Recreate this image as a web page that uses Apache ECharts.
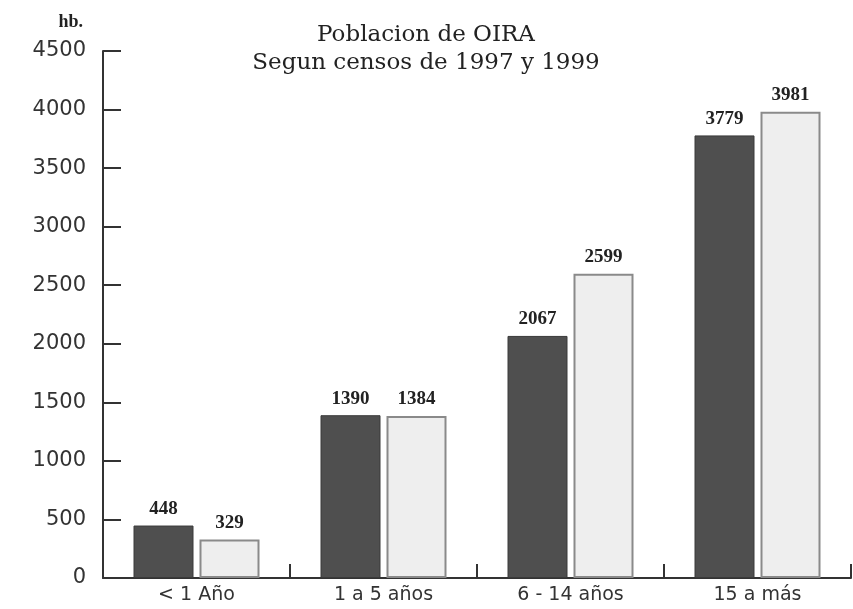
<!DOCTYPE html>
<html>
<head>
<meta charset="utf-8">
<script src="https://cdn.jsdelivr.net/npm/echarts@6/dist/echarts.min.js"></script>
<style>
  html, body { margin: 0; padding: 0; background: #fff; }
  #chart { width: 853px; height: 609px; }
</style>
</head>
<body>
<div id="chart"></div>
<script>
// grupos de edad y poblacion por censo
var categorias = ['< 1 Año', '1 a 5 años', '6 - 14 años', '15 a más'];
var censo1997 = [448, 1390, 2067, 3779];
var censo1999 = [329, 1384, 2599, 3981];

var chart = echarts.init(document.getElementById('chart'));

var etiqueta = {
  show: true,
  position: 'top',
  distance: 7,
  color: '#222',
  fontFamily: 'Liberation Serif',
  fontWeight: 'bold',
  fontSize: 19
};

var option = {
  animation: false,
  title: {
    text: 'Poblacion de OIRA\nSegun censos de 1997 y 1999',
    left: 421,
    top: 16,
    textAlign: 'center',
    textStyle: {
      color: '#222',
      fontFamily: 'DejaVu Serif',
      fontWeight: 'normal',
      fontSize: 23,
      lineHeight: 28
    }
  },
  grid: { left: 103, right: 2, top: 51, bottom: 31 },
  xAxis: {
    type: 'category',
    data: categorias,
    axisLine: { lineStyle: { color: '#333', width: 2 } },
    axisTick: { show: true, inside: true, length: 14, lineStyle: { color: '#333', width: 2 } },
    axisLabel: { color: '#333', fontFamily: 'DejaVu Sans', fontSize: 19, margin: 8 }
  },
  yAxis: {
    type: 'value',
    min: 0,
    max: 4500,
    interval: 500,
    name: 'hb.',
    nameLocation: 'end',
    nameGap: 20,
    nameTextStyle: {
      color: '#222',
      fontFamily: 'Liberation Serif',
      fontWeight: 'bold',
      fontSize: 18,
      align: 'right',
      padding: [0, 20, 0, 0]
    },
    splitLine: { show: false },
    axisLine: { show: true, lineStyle: { color: '#333', width: 2 } },
    axisTick: { show: true, inside: true, length: 18, lineStyle: { color: '#333', width: 2 } },
    axisLabel: {
      color: '#333',
      fontFamily: 'DejaVu Sans',
      fontSize: 21,
      margin: 17,
      formatter: function (v) { return String(v); }
    }
  },
  series: [
    {
      name: '1997',
      type: 'bar',
      data: censo1997,
      barWidth: 60,
      barGap: '10%',
      itemStyle: { color: '#4f4f4f', borderColor: '#3a3a3a', borderWidth: 1 },
      label: etiqueta
    },
    {
      name: '1999',
      type: 'bar',
      data: censo1999,
      barWidth: 60,
      itemStyle: { color: '#eeeeee', borderColor: '#8a8a8a', borderWidth: 2 },
      label: etiqueta
    }
  ]
};

chart.setOption(option);
</script>
</body>
</html>
